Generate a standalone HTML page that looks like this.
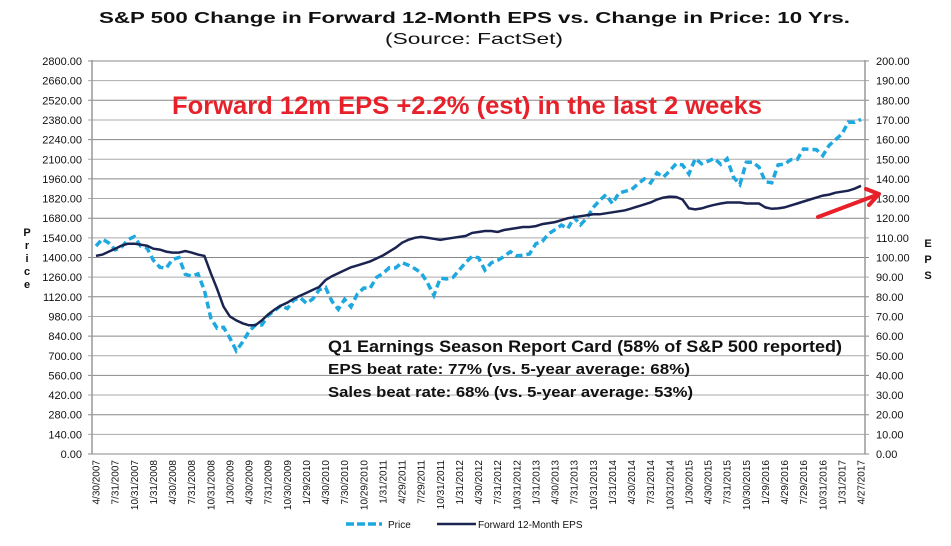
<!DOCTYPE html>
<html><head><meta charset="utf-8"><style>
body{margin:0;background:#fff;width:951px;height:541px;overflow:hidden;font-family:"Liberation Sans",Arial,sans-serif}
</style></head><body>
<svg id="chart" width="951" height="541" xmlns="http://www.w3.org/2000/svg" font-family="Liberation Sans, Arial, sans-serif">
<text x="99" y="23" textLength="751" lengthAdjust="spacingAndGlyphs" font-size="16" font-weight="bold" fill="#111">S&amp;P 500 Change in Forward 12-Month EPS vs. Change in Price: 10 Yrs.</text>
<text x="385" y="44" textLength="178" lengthAdjust="spacingAndGlyphs" font-size="16" fill="#111">(Source: FactSet)</text>
<g id="grid"></g>
<g id="yl"></g>
<g id="yr"></g>
<g id="xl"></g>
<text font-size="11" font-weight="bold" fill="#111" text-anchor="middle"><tspan x="27" y="236">P</tspan><tspan x="27" y="249">r</tspan><tspan x="27" y="262">i</tspan><tspan x="27" y="275">c</tspan><tspan x="27" y="288">e</tspan></text>
<text font-size="11" font-weight="bold" fill="#111" text-anchor="middle"><tspan x="928" y="247">E</tspan><tspan x="928" y="263">P</tspan><tspan x="928" y="279">S</tspan></text>
<path id="pricePath" fill="none" stroke="#1ea8e0" stroke-width="3.5" stroke-dasharray="7,4"/>
<path id="epsPath" fill="none" stroke="#1b2450" stroke-width="2.5"/>
<text x="172" y="114" textLength="590" lengthAdjust="spacingAndGlyphs" font-size="25" font-weight="bold" fill="#e8202a">Forward 12m EPS +2.2% (est) in the last 2 weeks</text>
<text x="328" y="352" textLength="514" lengthAdjust="spacingAndGlyphs" font-size="17" font-weight="bold" fill="#111">Q1 Earnings Season Report Card (58% of S&amp;P 500 reported)</text>
<text x="328" y="374" textLength="362" lengthAdjust="spacingAndGlyphs" font-size="14.5" font-weight="bold" fill="#111">EPS beat rate: 77% (vs. 5-year average: 68%)</text>
<text x="328" y="397" textLength="365" lengthAdjust="spacingAndGlyphs" font-size="14.5" font-weight="bold" fill="#111">Sales beat rate: 68% (vs. 5-year average: 53%)</text>
<g>
<line x1="818" y1="217" x2="874" y2="196" stroke="#e8202a" stroke-width="4" stroke-linecap="round"/>
<polyline points="866,189 879,194 869,205" fill="none" stroke="#e8202a" stroke-width="4" stroke-linecap="round" stroke-linejoin="round"/>
</g>
<g>
<line x1="346" y1="524" x2="382" y2="524" stroke="#1ea8e0" stroke-width="3.5" stroke-dasharray="8,3"/>
<text x="388" y="528" font-size="10" fill="#111">Price</text>
<line x1="437" y1="524" x2="476" y2="524" stroke="#1b2450" stroke-width="2.5"/>
<text x="478" y="528" font-size="10" fill="#111">Forward 12-Month EPS</text>
</g>
</svg>
<script>
const xLabels=["4/30/2007","7/31/2007","10/31/2007","1/31/2008","4/30/2008","7/31/2008","10/31/2008","1/30/2009","4/30/2009","7/31/2009","10/30/2009","1/29/2010","4/30/2010","7/30/2010","10/29/2010","1/31/2011","4/29/2011","7/29/2011","10/31/2011","1/31/2012","4/30/2012","7/31/2012","10/31/2012","1/31/2013","4/30/2013","7/31/2013","10/31/2013","1/31/2014","4/30/2014","7/31/2014","10/31/2014","1/30/2015","4/30/2015","7/31/2015","10/30/2015","1/29/2016","4/29/2016","7/29/2016","10/31/2016","1/31/2017","4/27/2017"];
const leftTicks=[0,140,280,420,560,700,840,980,1120,1260,1400,1540,1680,1820,1960,2100,2240,2380,2520,2660,2800];
const rightTicks=[0,10,20,30,40,50,60,70,80,90,100,110,120,130,140,150,160,170,180,190,200];
const price=[1482,1531,1503,1455,1474,1527,1549,1481,1468,
1379,1331,1323,1386,1400,1280,1267,1283,1166,969,896,903,
826,735,798,873,919,919,987,1021,1057,1036,1096,1115,
1074,1104,1169,1187,1089,1031,1102,1049,1141,1183,1181,1258,
1286,1327,1326,1364,1345,1321,1292,1219,1131,1253,1247,1258,
1312,1366,1408,1398,1310,1362,1379,1407,1441,1412,1416,1426,
1498,1515,1569,1598,1631,1606,1686,1633,1682,1757,1806,1848,
1783,1859,1872,1884,1924,1960,1931,2003,1972,2018,2068,2059,
1995,2105,2068,2086,2107,2063,2104,1972,1920,2079,2080,2044,
1940,1932,2060,2065,2097,2099,2174,2171,2168,2126,2199,2239,
2279,2364,2363,2384];
const eps=[100.8,101.5,103,104.5,106,107,107,106.5,106,
104.5,104,103,102.5,102.5,103.3,102.5,101.5,100.8,92,84,75,
70,68,66.5,65.5,65.5,68,71,73.5,75.5,77,79,80.5,
82,83.5,85,88.5,90.5,92,93.5,95,96,97,98,99.5,
101,103,105,107.5,109,110,110.5,110,109.5,109,109.5,110,
110.5,111,112.5,113,113.5,113.5,113,114,114.5,115,115.5,115.5,
116,117,117.5,118,119,120,120.5,121,121.5,122,122,122.5,
123,123.5,124,125,126,127,128,129.5,130.5,131,130.8,129.5,
125,124.5,125,126,126.8,127.5,128,128,128,127.5,127.5,127.5,
125.5,124.8,125,125.5,126.5,127.5,128.5,129.5,130.5,131.5,132,133,
133.5,134,135,136.5];
const NS="http://www.w3.org/2000/svg";
const L=92,R=865,T=61,B=454,X0=96,X1=861;
const yL=v=>B-(v/2800)*(B-T), yR=v=>B-(v/200)*(B-T);
const xM=i=>X0+(X1-X0)*i/120, xQ=i=>X0+(X1-X0)*i/40;
function mk(tag,attrs,parent){const e=document.createElementNS(NS,tag);for(const k in attrs)e.setAttribute(k,attrs[k]);parent.appendChild(e);return e;}
const grid=document.getElementById('grid');
leftTicks.forEach((v,i)=>{
 const g=mk('line',{x1:L-4,x2:R+4,y1:yL(v),y2:yL(v),stroke:i%2?'#aaa':'#888','stroke-width':1},grid);
 
 
 const t=mk('text',{x:82,y:yL(v)+4,'text-anchor':'end','font-size':11,fill:'#111'},document.getElementById('yl'));
 t.textContent=v.toFixed(2);
 
 
});
rightTicks.forEach(v=>{
 const t=mk('text',{x:876,y:yR(v)+4,'font-size':11,fill:'#111'},document.getElementById('yr'));
 t.textContent=v.toFixed(2);
 
 
});
const ax1=mk('line',{x1:L,x2:L,y1:T-1,y2:B,stroke:'#999','stroke-width':1.5},grid);


const ax2=mk('line',{x1:R,x2:R,y1:T-1,y2:B,stroke:'#999','stroke-width':1.5},grid);


xLabels.forEach((s,i)=>{
 const x=xQ(i)+3.5;
 const t=mk('text',{x:x,y:460,'text-anchor':'end','font-size':10,fill:'#111',transform:`rotate(-90 ${x} 460)`},document.getElementById('xl'));
 t.textContent=s;
 
 
});
document.getElementById('pricePath').setAttribute('d',price.map((v,i)=>(i?'L':'M')+xM(i).toFixed(1)+' '+yL(v).toFixed(1)).join(' '));
document.getElementById('epsPath').setAttribute('d',eps.map((v,i)=>(i?'L':'M')+xM(i).toFixed(1)+' '+yR(v).toFixed(1)).join(' '));
</script>
</body></html>
